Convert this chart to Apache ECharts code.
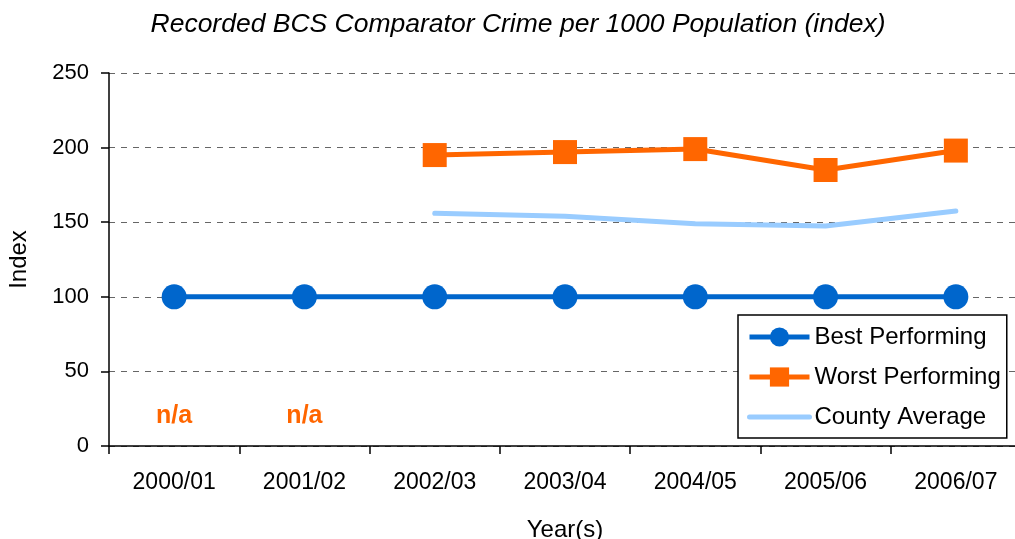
<!DOCTYPE html>
<html>
<head>
<meta charset="utf-8">
<script src="https://cdn.jsdelivr.net/npm/echarts@6/dist/echarts.min.js"></script>
<style>
  html, body { margin: 0; padding: 0; background: #fff; }
  #chart { width: 1015px; height: 539px; }
</style>
</head>
<body>
<div id="chart"></div>
<script>
// data
const years = ['2000/01', '2001/02', '2002/03', '2003/04', '2004/05', '2005/06', '2006/07'];
const bestPerforming = [100, 100, 100, 100, 100, 100, 100];
const worstPerforming = [null, null, 195, 197, 199, 185, 198];
const countyAverage = [null, null, 156, 154, 149, 147.5, 157.5];
const naPoints = [['2000/01', 20], ['2001/02', 20]];
const yTicks = [0, 50, 100, 150, 200, 250];

const font = '"Liberation Sans", Arial, sans-serif';

const chart = echarts.init(document.getElementById('chart'));
chart.setOption({
  animation: false,
  title: {
    text: 'Recorded BCS Comparator Crime per 1000 Population (index)',
    left: 513,
    textAlign: 'center',
    top: 6,
    textStyle: { fontFamily: font, fontSize: 26.5, fontStyle: 'italic', fontWeight: 'normal', color: '#000' }
  },
  grid: { left: 109, right: -6, top: 73, bottom: 93, outerBoundsMode: 'none' },
  legend: {
    data: [
      { name: 'Best Performing', lineStyle: { width: 5 } },
      { name: 'Worst Performing', lineStyle: { width: 5 } },
      { name: 'County Average', lineStyle: { width: 5 }, itemStyle: { opacity: 0 } }
    ],
    orient: 'vertical',
    left: 738,
    top: 315,
    backgroundColor: '#fff',
    borderColor: '#000',
    borderWidth: 1.5,
    borderRadius: 0,
    padding: [10, 6, 9, 9],
    itemGap: 16,
    itemWidth: 60,
    itemHeight: 24,
    textStyle: { fontFamily: font, fontSize: 24, color: '#000' }
  },
  xAxis: {
    type: 'category',
    data: years,
    boundaryGap: true,
    name: 'Year(s)',
    nameLocation: 'middle',
    nameGap: 72,
    nameTextStyle: { fontFamily: font, fontSize: 24, color: '#000' },
    axisLine: { lineStyle: { color: '#000', width: 1.5 } },
    axisTick: { show: true, length: 8, lineStyle: { color: '#000', width: 1.5 } },
    axisLabel: { fontFamily: font, fontSize: 23, color: '#000', margin: 25 },
    splitLine: { show: false }
  },
  yAxis: {
    type: 'value',
    min: 0,
    max: 250,
    interval: 50,
    name: 'Index',
    nameLocation: 'middle',
    nameGap: 78,
    nameTextStyle: { fontFamily: font, fontSize: 24, color: '#000' },
    axisLine: { show: true, lineStyle: { color: '#000', width: 1.5 } },
    axisTick: { show: true, length: 8, lineStyle: { color: '#000', width: 1.5 } },
    axisLabel: {
      fontFamily: font, fontSize: 22, color: '#000', margin: 20,
      formatter: v => (yTicks.includes(v) ? String(v) : '')
    },
    splitLine: { show: true, lineStyle: { color: '#666', type: [6, 6], width: 1 } }
  },
  series: [
    {
      name: 'County Average',
      type: 'line',
      data: countyAverage,
      symbol: 'none',
      lineStyle: { color: '#99CCFF', width: 5, cap: 'round' },
      itemStyle: { color: '#99CCFF' },
      z: 2
    },
    {
      name: 'Best Performing',
      type: 'line',
      data: bestPerforming,
      symbol: 'circle',
      symbolSize: 25,
      lineStyle: { color: '#0066CC', width: 5 },
      itemStyle: { color: '#0066CC' },
      z: 3
    },
    {
      name: 'Worst Performing',
      type: 'line',
      data: worstPerforming,
      symbol: 'rect',
      symbolSize: 24,
      lineStyle: { color: '#FF6600', width: 5 },
      itemStyle: { color: '#FF6600' },
      z: 3
    },
    {
      name: 'na',
      type: 'scatter',
      data: naPoints,
      symbolSize: 0,
      itemStyle: { opacity: 1, color: '#FF6600' },
      label: {
        show: true,
        position: 'inside',
        formatter: 'n/a',
        fontFamily: font,
        fontSize: 25,
        fontWeight: 'bold',
        color: '#FF6600',
        opacity: 1
      }
    }
  ]
});
</script>
</body>
</html>
